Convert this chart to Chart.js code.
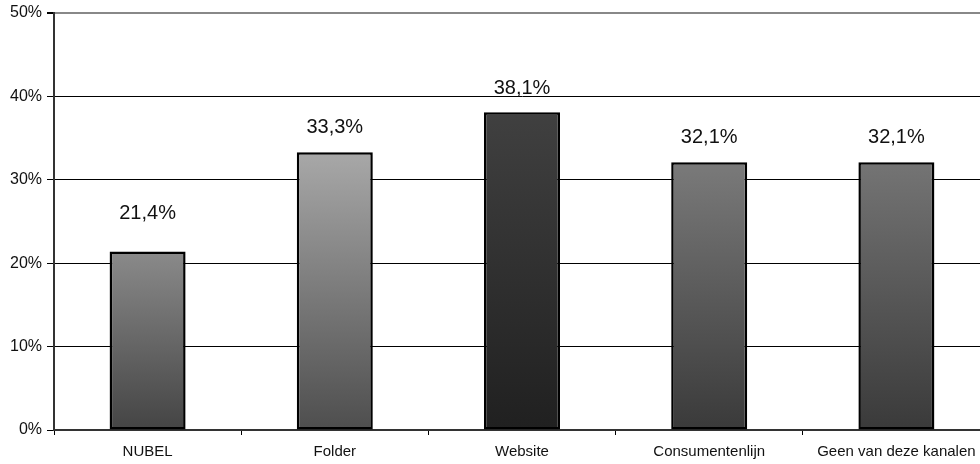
<!DOCTYPE html>
<html>
<head>
<meta charset="utf-8">
<script src="https://cdn.jsdelivr.net/npm/chart.js@4"></script>
<style>
  html, body { margin: 0; padding: 0; background: #fff; overflow: hidden; }
  #wrap { width: 1000px; height: 464px; }
</style>
</head>
<body>
<div id="wrap"><canvas id="chart" width="1000" height="464"></canvas></div>
<script>
const categories = ['NUBEL', 'Folder', 'Website', 'Consumentenlijn', 'Geen van deze kanalen'];
const values = [21.4, 33.3, 38.1, 32.1, 32.1];
const yTicks = [0, 10, 20, 30, 40, 50];

// top / bottom shade of each bar's gradient
const topColors = ['#8a8a8a', '#a8a8a8', '#404040', '#7a7a7a', '#747474'];
const bottomColors = ['#444444', '#4e4e4e', '#202020', '#3a3a3a', '#3a3a3a'];
// extra lift for each value label above its bar
const labelLift = [38, 25, 24, 25, 25];

const FONT = '"Liberation Sans", Arial, sans-serif';

function barGradient(ctx) {
  const chart = ctx.chart;
  const y = chart.scales.y;
  const i = ctx.dataIndex;
  if (!y || i === undefined) return topColors[0];
  const y0 = y.getPixelForValue(values[i]);
  const y1 = y.getPixelForValue(0);
  if (!isFinite(y0) || !isFinite(y1)) return topColors[i];
  const g = chart.ctx.createLinearGradient(0, y0, 0, y1);
  g.addColorStop(0, topColors[i]);
  g.addColorStop(1, bottomColors[i]);
  return g;
}

const valueLabels = {
  id: 'valueLabels',
  afterDatasetsDraw(chart) {
    const c = chart.ctx;
    const meta = chart.getDatasetMeta(0);
    c.save();
    c.font = '20px ' + FONT;
    c.fillStyle = '#111';
    c.textAlign = 'center';
    c.textBaseline = 'middle';
    meta.data.forEach((bar, i) => {
      c.fillText(values[i].toFixed(1).replace('.', ',') + '%', bar.x, bar.y - labelLift[i]);
    });
    c.restore();
  }
};

new Chart(document.getElementById('chart'), {
  type: 'bar',
  data: {
    labels: categories,
    datasets: [{
      data: values,
      backgroundColor: barGradient,
      borderColor: '#000',
      borderWidth: 2.5,
      borderSkipped: false,
      categoryPercentage: 1,
      barPercentage: 0.406
    }]
  },
  options: {
    responsive: false,
    animation: false,
    layout: { padding: { top: 12, right: 10, left: 0, bottom: 0 } },
    plugins: {
      legend: { display: false },
      tooltip: { enabled: false }
    },
    scales: {
      x: {
        offset: true,
        grid: { offset: true, drawOnChartArea: false, tickLength: 5, tickColor: '#000', tickWidth: 1 },
        border: { color: '#333', width: 2 },
        ticks: {
          color: '#111',
          padding: 8,
          maxRotation: 0,
          font: { family: FONT, size: 15 }
        },
        afterFit(scale) { scale.height = 34; }
      },
      y: {
        min: 0,
        max: 50,
        afterBuildTicks(scale) { scale.ticks = yTicks.map(v => ({ value: v })); },
        grid: {
          color: ctx => ctx.tick && ctx.tick.value === 50 ? '#888' : '#000',
          lineWidth: ctx => ctx.tick && ctx.tick.value === 50 ? 2 : 1,
          tickColor: '#000',
          tickLength: 7
        },
        border: { color: '#333', width: 2 },
        ticks: {
          color: '#111',
          padding: 5,
          callback: v => v + '%',
          font: { family: FONT, size: 16, lineHeight: 1 }
        },
        afterFit(scale) { scale.width = 54; }
      }
    }
  },
  plugins: [valueLabels]
});
</script>
</body>
</html>
